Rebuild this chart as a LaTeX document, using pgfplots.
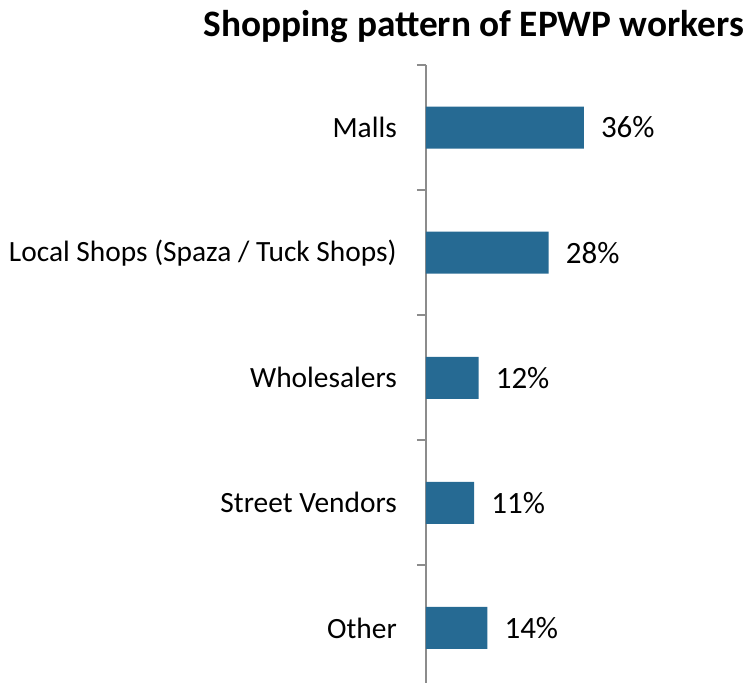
\documentclass[border=0pt]{standalone}
\usepackage{pgfplots}
\pgfplotsset{compat=1.18}
\usepackage{fontspec}
\setmainfont{Carlito}
\definecolor{barblue}{HTML}{266A93}
\definecolor{axgray}{HTML}{8C8C8C}
\begin{document}
\begin{tikzpicture}
\useasboundingbox (-426bp,0) rectangle (322bp,683bp);
\begin{axis}[
  at={(0,0)}, anchor=south west,
  scale only axis,
  width=320bp, height=618bp,
  xbar, bar width=42bp,
  xmin=0, xmax=73,
  ymin=-0.5, ymax=4.44,
  y dir=reverse,
  axis x line=none,
  axis y line*=left,
  y axis line style={axgray, line width=2bp, -},
  ytick={0,1,2,3,4},
  yticklabels={Malls, Local Shops (Spaza / Tuck Shops), Wholesalers, Street Vendors, Other},
  major tick length=0pt,
  minor ytick={-0.5,0.5,1.5,2.5,3.5},
  minor tick length=9bp,
  tick align=outside,
  minor tick style={axgray, line width=2bp},
  yticklabel style={font=\fontsize{29.4bp}{33bp}\selectfont, anchor=east, inner sep=0pt, xshift=-29bp},
  nodes near coords={\pgfmathprintnumber[assume math mode=true]{\pgfplotspointmeta}\%},
  every node near coord/.append style={font=\fontsize{31bp}{34bp}\selectfont, black, anchor=west, inner sep=0pt, xshift=17bp},
  clip=false,
]
\addplot[fill=barblue, draw=none] coordinates {(36,0) (28,1) (12,2) (11,3) (14,4)};
\end{axis}
\node[anchor=base, font=\fontsize{37.3bp}{40bp}\selectfont\bfseries] at (48bp,646bp) {Shopping pattern of EPWP workers};
\end{tikzpicture}
\end{document}
